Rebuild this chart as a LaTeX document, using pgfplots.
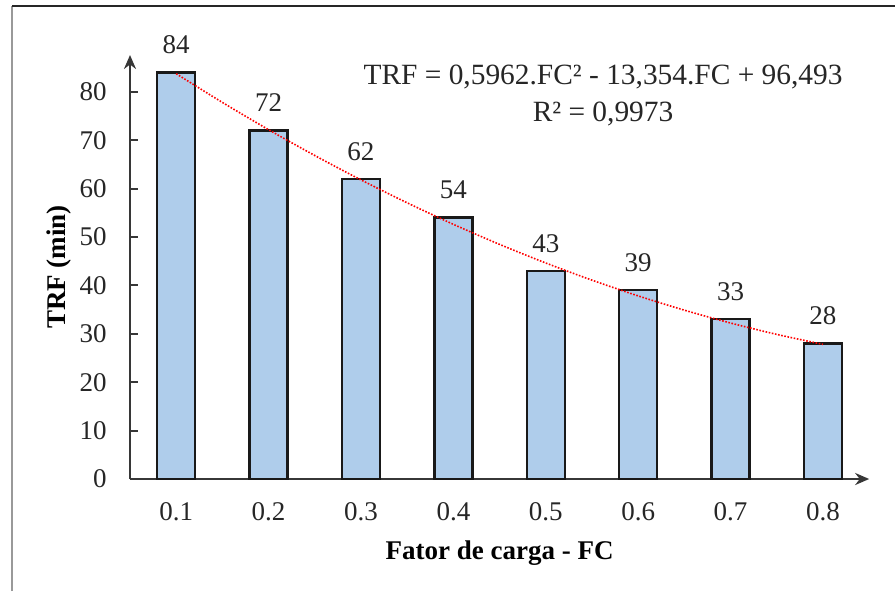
\documentclass[border=0pt]{standalone}
\usepackage{fontspec}
\setmainfont{Liberation Serif}
\usepackage{pgfplots}
\pgfplotsset{compat=1.18}
\usetikzlibrary{arrows.meta}
\definecolor{barblue}{RGB}{175,205,235}
\definecolor{axisgray}{RGB}{55,55,55}
\newcommand{\lbl}{\fontsize{13.5}{16}\selectfont}
\newcommand{\eqfont}{\fontsize{14.7}{17}\selectfont}

\begin{document}
\begin{tikzpicture}[x=1pt,y=1pt]
\useasboundingbox (0,0) rectangle (447.5,295.5);
% outer frame
\draw[gray!80, line width=0.8pt] (6,0) -- (6,292.5);
\draw[black!85, line width=0.8pt] (6,292.5) -- (447.5,292.5);
\begin{axis}[
  at={(65pt,56pt)}, anchor=south west,
  scale only axis, width=369.6pt, height=212pt,
  xmin=0.5, xmax=8.5, ymin=0, ymax=87.6,
  axis lines=left,
  axis line style={axisgray, line width=1.3pt, -{Stealth[length=7pt,width=6pt]}},
  xtick={1,...,8},
  xticklabels={0.1,0.2,0.3,0.4,0.5,0.6,0.7,0.8},
  ytick={0,10,...,80},
  major tick length=4pt, tick align=inside,
  ytick style={axisgray, line width=1pt},
  xtick style={draw=none},
  tick label style={font=\lbl, inner sep=0pt, text=black!85},
  yticklabel style={anchor=east, xshift=-11.5pt},
  xticklabel style={anchor=north, yshift=-11.5pt},
  /pgf/number format/assume math mode=true,
  xlabel={\textbf{Fator de carga - FC}},
  ylabel={\textbf{TRF (min)}},
  xlabel style={at={(axis description cs:0.5,-0.1745)}, anchor=center, font=\lbl},
  ylabel style={at={(axis description cs:-0.096,0.5)}, anchor=center, font=\lbl},
  clip=false,
]
% measured TRF per load factor
\addplot[ybar, bar width=19pt, fill=barblue, draw=black!90, line width=1.2pt,
  nodes near coords,
  nodes near coords style={font=\lbl, anchor=south, inner sep=0pt, yshift=8.7pt, text=black!85}]
  coordinates {(1,84) (2,72) (3,62) (4,54) (5,43) (6,39) (7,33) (8,28)};
% second-order trend line
\addplot[red, line width=0.8pt, dash pattern=on 0.8pt off 0.8pt, smooth]
  coordinates {
  (1,83.735) (1.5,77.804) (2,72.170) (2.5,66.834) (3,61.797) (3.5,57.058)
  (4,52.616) (4.5,48.473) (5,44.628) (5.5,41.081) (6,37.832) (6.5,34.882)
  (7,32.229) (7.5,29.874) (8,27.818)};
\node[font=\eqfont, anchor=base, text=black!85] at (axis cs:5.62,81.6)
  {TRF = 0,5962.FC² - 13,354.FC + 96,493};
\node[font=\eqfont, anchor=base, text=black!85] at (axis cs:5.62,73.9)
  {R² = 0,9973};
\end{axis}
\end{tikzpicture}
\end{document}
